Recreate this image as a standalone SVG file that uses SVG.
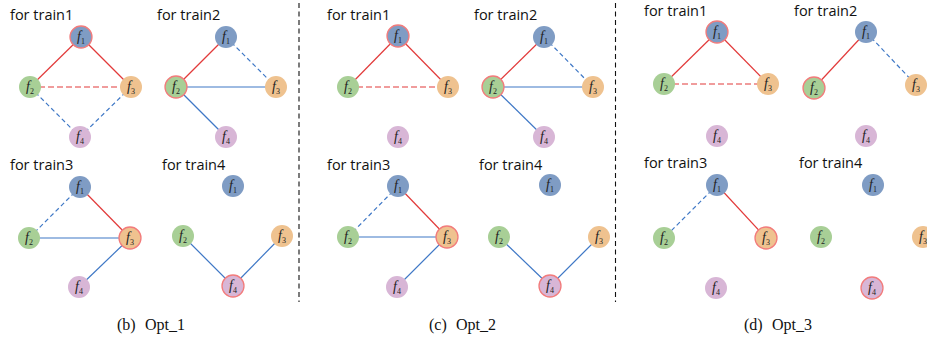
<svg xmlns="http://www.w3.org/2000/svg" width="927" height="342" viewBox="0 0 927 342">
<style>
.t{font-family:"Open Sans","Liberation Sans",sans-serif;font-size:14.5px;fill:#111}
.cap{font-family:"Liberation Serif",serif;font-size:16px;fill:#111}
.n circle{stroke:none}
.c1 circle{fill:#7f9cc4}
.c2 circle{fill:#a8cf96}
.c3 circle{fill:#efc28f}
.c4 circle{fill:#d8b6d6}
.hl circle{stroke:#f27c7c;stroke-width:1.3}
.n text{font-family:"Liberation Serif",serif;font-style:italic;font-size:14px;fill:#222}
.n tspan{font-style:normal;font-size:8px}
.e{stroke-width:1.2;fill:none}
.r{stroke:#e23a3a}
.b{stroke:#3f78c6}
.d{stroke-dasharray:6 3}
.db{stroke-dasharray:4.5 3}
.div{stroke:#111;stroke-width:1.1;stroke-dasharray:5 3.5}
</style>
<g id="dividers">
<line class="div" x1="299" y1="3" x2="299" y2="302"/>
<line class="div" x1="615.5" y1="3" x2="615.5" y2="302"/>
</g>
<g id="titles">
<text class="t" x="10" y="20">for train1</text>
<text class="t" x="157" y="20">for train2</text>
<text class="t" x="10" y="170">for train3</text>
<text class="t" x="162" y="170">for train4</text>
<text class="t" x="327" y="20">for train1</text>
<text class="t" x="474" y="20">for train2</text>
<text class="t" x="327" y="170">for train3</text>
<text class="t" x="479" y="170">for train4</text>
<text class="t" x="644" y="16">for train1</text>
<text class="t" x="794" y="16">for train2</text>
<text class="t" x="644" y="168">for train3</text>
<text class="t" x="799" y="168">for train4</text>
</g>
<g id="connectors">
<line class="e r" x1="81" y1="37" x2="30" y2="87"/>
<line class="e r" x1="81" y1="37" x2="131" y2="87"/>
<line class="e r d" x1="30" y1="87" x2="131" y2="87"/>
<line class="e b db" x1="30" y1="87" x2="80" y2="137"/>
<line class="e b db" x1="131" y1="87" x2="80" y2="137"/>
<line class="e r" x1="226" y1="37" x2="176" y2="87"/>
<line class="e b db" x1="226" y1="37" x2="276" y2="87"/>
<line class="e b" x1="176" y1="87" x2="276" y2="87"/>
<line class="e b" x1="176" y1="87" x2="226" y2="137"/>
<line class="e b db" x1="80" y1="187" x2="29" y2="238"/>
<line class="e r" x1="80" y1="187" x2="130" y2="238"/>
<line class="e b" x1="29" y1="238" x2="130" y2="238"/>
<line class="e b" x1="130" y1="238" x2="79" y2="287"/>
<line class="e b" x1="183" y1="236" x2="233" y2="286"/>
<line class="e b" x1="282" y1="236" x2="233" y2="286"/>
<line class="e r" x1="398" y1="36" x2="348" y2="87"/>
<line class="e r" x1="398" y1="36" x2="448" y2="87"/>
<line class="e r d" x1="348" y1="87" x2="448" y2="87"/>
<line class="e r" x1="544" y1="37" x2="493" y2="87"/>
<line class="e b db" x1="544" y1="37" x2="593" y2="87"/>
<line class="e b" x1="493" y1="87" x2="593" y2="87"/>
<line class="e b" x1="493" y1="87" x2="544" y2="137"/>
<line class="e b db" x1="398" y1="186" x2="348" y2="237"/>
<line class="e r" x1="398" y1="186" x2="447" y2="237"/>
<line class="e b" x1="348" y1="237" x2="447" y2="237"/>
<line class="e b" x1="447" y1="237" x2="397" y2="287"/>
<line class="e b" x1="499" y1="237" x2="550" y2="286"/>
<line class="e b" x1="599" y1="237" x2="550" y2="286"/>
<line class="e r" x1="717" y1="32" x2="664" y2="84"/>
<line class="e r" x1="717" y1="32" x2="768" y2="84"/>
<line class="e r d" x1="664" y1="84" x2="768" y2="84"/>
<line class="e r" x1="866" y1="32" x2="814" y2="88"/>
<line class="e b db" x1="866" y1="32" x2="916" y2="85"/>
<line class="e b db" x1="717" y1="185" x2="664" y2="238"/>
<line class="e r" x1="717" y1="185" x2="766" y2="238"/>
</g>
<g id="b1-f1" class="n c1 hl"><circle cx="81" cy="37" r="11"/><text x="77" y="41">f<tspan dy="3">1</tspan></text></g>
<g id="b1-f2" class="n c2"><circle cx="30" cy="87" r="11"/><text x="26" y="91">f<tspan dy="3">2</tspan></text></g>
<g id="b1-f3" class="n c3"><circle cx="131" cy="87" r="11"/><text x="127" y="91">f<tspan dy="3">3</tspan></text></g>
<g id="b1-f4" class="n c4"><circle cx="80" cy="137" r="11"/><text x="76" y="141">f<tspan dy="3">4</tspan></text></g>
<g id="b2-f1" class="n c1"><circle cx="226" cy="37" r="11"/><text x="222" y="41">f<tspan dy="3">1</tspan></text></g>
<g id="b2-f2" class="n c2 hl"><circle cx="176" cy="87" r="11"/><text x="172" y="91">f<tspan dy="3">2</tspan></text></g>
<g id="b2-f3" class="n c3"><circle cx="276" cy="87" r="11"/><text x="272" y="91">f<tspan dy="3">3</tspan></text></g>
<g id="b2-f4" class="n c4"><circle cx="226" cy="137" r="11"/><text x="222" y="141">f<tspan dy="3">4</tspan></text></g>
<g id="b3-f1" class="n c1"><circle cx="80" cy="187" r="11"/><text x="76" y="191">f<tspan dy="3">1</tspan></text></g>
<g id="b3-f2" class="n c2"><circle cx="29" cy="238" r="11"/><text x="25" y="242">f<tspan dy="3">2</tspan></text></g>
<g id="b3-f3" class="n c3 hl"><circle cx="130" cy="238" r="11"/><text x="126" y="242">f<tspan dy="3">3</tspan></text></g>
<g id="b3-f4" class="n c4"><circle cx="79" cy="287" r="11"/><text x="75" y="291">f<tspan dy="3">4</tspan></text></g>
<g id="b4-f1" class="n c1"><circle cx="233" cy="186" r="11"/><text x="229" y="190">f<tspan dy="3">1</tspan></text></g>
<g id="b4-f2" class="n c2"><circle cx="183" cy="236" r="11"/><text x="179" y="240">f<tspan dy="3">2</tspan></text></g>
<g id="b4-f3" class="n c3"><circle cx="282" cy="236" r="11"/><text x="278" y="240">f<tspan dy="3">3</tspan></text></g>
<g id="b4-f4" class="n c4 hl"><circle cx="233" cy="286" r="11"/><text x="229" y="290">f<tspan dy="3">4</tspan></text></g>
<g id="c1-f1" class="n c1 hl"><circle cx="398" cy="36" r="11"/><text x="394" y="40">f<tspan dy="3">1</tspan></text></g>
<g id="c1-f2" class="n c2"><circle cx="348" cy="87" r="11"/><text x="344" y="91">f<tspan dy="3">2</tspan></text></g>
<g id="c1-f3" class="n c3"><circle cx="448" cy="87" r="11"/><text x="444" y="91">f<tspan dy="3">3</tspan></text></g>
<g id="c1-f4" class="n c4"><circle cx="398" cy="137" r="11"/><text x="394" y="141">f<tspan dy="3">4</tspan></text></g>
<g id="c2-f1" class="n c1"><circle cx="544" cy="37" r="11"/><text x="540" y="41">f<tspan dy="3">1</tspan></text></g>
<g id="c2-f2" class="n c2 hl"><circle cx="493" cy="87" r="11"/><text x="489" y="91">f<tspan dy="3">2</tspan></text></g>
<g id="c2-f3" class="n c3"><circle cx="593" cy="87" r="11"/><text x="589" y="91">f<tspan dy="3">3</tspan></text></g>
<g id="c2-f4" class="n c4"><circle cx="544" cy="137" r="11"/><text x="540" y="141">f<tspan dy="3">4</tspan></text></g>
<g id="c3-f1" class="n c1"><circle cx="398" cy="186" r="11"/><text x="394" y="190">f<tspan dy="3">1</tspan></text></g>
<g id="c3-f2" class="n c2"><circle cx="348" cy="237" r="11"/><text x="344" y="241">f<tspan dy="3">2</tspan></text></g>
<g id="c3-f3" class="n c3 hl"><circle cx="447" cy="237" r="11"/><text x="443" y="241">f<tspan dy="3">3</tspan></text></g>
<g id="c3-f4" class="n c4"><circle cx="397" cy="287" r="11"/><text x="393" y="291">f<tspan dy="3">4</tspan></text></g>
<g id="c4-f1" class="n c1"><circle cx="550" cy="185" r="11"/><text x="546" y="189">f<tspan dy="3">1</tspan></text></g>
<g id="c4-f2" class="n c2"><circle cx="499" cy="237" r="11"/><text x="495" y="241">f<tspan dy="3">2</tspan></text></g>
<g id="c4-f3" class="n c3"><circle cx="599" cy="237" r="11"/><text x="595" y="241">f<tspan dy="3">3</tspan></text></g>
<g id="c4-f4" class="n c4 hl"><circle cx="550" cy="286" r="11"/><text x="546" y="290">f<tspan dy="3">4</tspan></text></g>
<g id="d1-f1" class="n c1 hl"><circle cx="717" cy="32" r="11"/><text x="713" y="36">f<tspan dy="3">1</tspan></text></g>
<g id="d1-f2" class="n c2"><circle cx="664" cy="84" r="11"/><text x="660" y="88">f<tspan dy="3">2</tspan></text></g>
<g id="d1-f3" class="n c3"><circle cx="768" cy="84" r="11"/><text x="764" y="88">f<tspan dy="3">3</tspan></text></g>
<g id="d1-f4" class="n c4"><circle cx="717" cy="136" r="11"/><text x="713" y="140">f<tspan dy="3">4</tspan></text></g>
<g id="d2-f1" class="n c1"><circle cx="866" cy="32" r="11"/><text x="862" y="36">f<tspan dy="3">1</tspan></text></g>
<g id="d2-f2" class="n c2 hl"><circle cx="814" cy="88" r="11"/><text x="810" y="92">f<tspan dy="3">2</tspan></text></g>
<g id="d2-f3" class="n c3"><circle cx="916" cy="85" r="11"/><text x="912" y="89">f<tspan dy="3">3</tspan></text></g>
<g id="d2-f4" class="n c4"><circle cx="866" cy="136" r="11"/><text x="862" y="140">f<tspan dy="3">4</tspan></text></g>
<g id="d3-f1" class="n c1"><circle cx="717" cy="185" r="11"/><text x="713" y="189">f<tspan dy="3">1</tspan></text></g>
<g id="d3-f2" class="n c2"><circle cx="664" cy="238" r="11"/><text x="660" y="242">f<tspan dy="3">2</tspan></text></g>
<g id="d3-f3" class="n c3 hl"><circle cx="766" cy="238" r="11"/><text x="762" y="242">f<tspan dy="3">3</tspan></text></g>
<g id="d3-f4" class="n c4"><circle cx="716" cy="288" r="11"/><text x="712" y="292">f<tspan dy="3">4</tspan></text></g>
<g id="d4-f1" class="n c1"><circle cx="873" cy="185" r="11"/><text x="869" y="189">f<tspan dy="3">1</tspan></text></g>
<g id="d4-f2" class="n c2"><circle cx="821" cy="237" r="11"/><text x="817" y="241">f<tspan dy="3">2</tspan></text></g>
<g id="d4-f3" class="n c3"><circle cx="923" cy="237" r="11"/><text x="919" y="241">f<tspan dy="3">3</tspan></text></g>
<g id="d4-f4" class="n c4 hl"><circle cx="872" cy="288" r="11"/><text x="868" y="292">f<tspan dy="3">4</tspan></text></g>
<g id="captions">
<text class="cap" x="117" y="330">(b)<tspan x="145">Opt_1</tspan></text>
<text class="cap" x="429" y="330">(c)<tspan x="456">Opt_2</tspan></text>
<text class="cap" x="744" y="330">(d)<tspan x="772">Opt_3</tspan></text>
</g>
</svg>
